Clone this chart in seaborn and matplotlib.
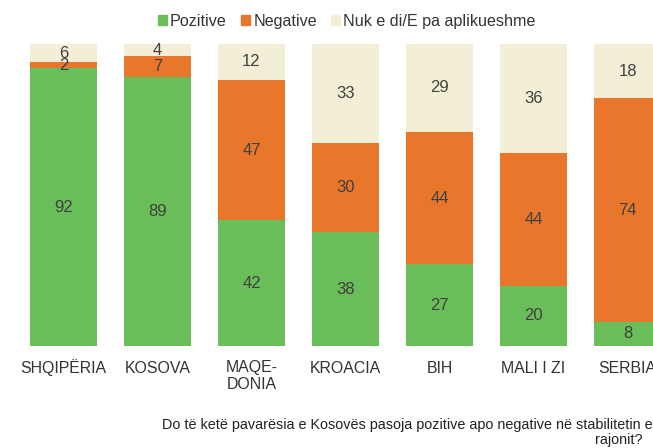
import numpy as np
import pandas as pd
import matplotlib
matplotlib.use("Agg")
import matplotlib.pyplot as plt
from matplotlib.patches import Patch
from matplotlib.transforms import ScaledTranslation
import seaborn as sns

# data
countries = ["SHQIPËRIA", "KOSOVA", "MAQE-\nDONIA", "KROACIA", "BIH", "MALI I ZI", "SERBIA"]
pozitive = [92, 89, 42, 38, 27, 20, 8]
negative = [2, 7, 47, 30, 44, 44, 74]
nuk_e_di = [6, 4, 12, 33, 29, 36, 18]

GREEN = "#6ABE59"
ORANGE = "#E8762B"
BEIGE = "#F3EFD7"
TXT = "#404040"

sns.set_style("white")
plt.rcParams["font.family"] = ["Liberation Sans", "DejaVu Sans"]

df = pd.DataFrame({"country": countries, "poz": pozitive, "neg": negative, "nuk": nuk_e_di})
tot = df["poz"] + df["neg"] + df["nuk"]
# 100% stacked, like the original
df["c1"] = df["poz"] / tot * 100
df["c2"] = (df["poz"] + df["neg"]) / tot * 100
df["c3"] = 100.0

fig = plt.figure(figsize=(6.53, 4.48), dpi=100)
ax = fig.add_axes([0, 102 / 448, 1, 302 / 448])

for col, colr in [("c3", BEIGE), ("c2", ORANGE), ("c1", GREEN)]:
    sns.barplot(data=df, x="country", y=col, color=colr, width=0.72,
                saturation=1, errorbar=None, ax=ax, linewidth=0)

# value labels in the middle of each segment
for i, row in df.iterrows():
    mids = [row["c1"] / 2, (row["c1"] + row["c2"]) / 2, (row["c2"] + 100) / 2]
    vals = [row["poz"], row["neg"], row["nuk"]]
    for m, v in zip(mids, vals):
        ax.text(i, m, str(v), ha="center", va="center", fontsize=12, color=TXT)

ax.set_xlim(-63.5 / 94, (653 - 63.5) / 94)
ax.set_ylim(0, 100)
ax.set_xlabel("")
ax.set_ylabel("")
ax.set_yticks([])
ax.tick_params(axis="x", length=0, pad=19.5, labelsize=11.4, labelcolor="#333333")
for lbl in ax.get_xticklabels():
    lbl.set_verticalalignment("baseline")
    if "\n" in lbl.get_text():
        # baseline of a two-line label is its last line, push it down one line
        lbl.set_transform(lbl.get_transform() +
                          ScaledTranslation(0, -0.16, fig.dpi_scale_trans))
sns.despine(ax=ax, left=True, bottom=True)

handles = [Patch(color=GREEN, label="Pozitive"),
           Patch(color=ORANGE, label="Negative"),
           Patch(color=BEIGE, label="Nuk e di/E pa aplikueshme")]
fig.legend(handles=handles, loc="center", bbox_to_anchor=(0.531, 0.953), ncol=3,
           frameon=False, fontsize=11.6, handlelength=0.55, handleheight=0.55,
           handletextpad=0.2, columnspacing=0.9, labelcolor="#333333")

fig.text(162 / 653, 1 - 425 / 448,
         "Do të ketë pavarësia e Kosovës pasoja pozitive apo negative në stabilitetin e",
         ha="left", va="center", fontsize=10.4, color="#222222")
fig.text(643 / 653, 1 - 440 / 448, "rajonit?", ha="right", va="center",
         fontsize=10.4, color="#222222")

fig.savefig("out.png", dpi=100)
